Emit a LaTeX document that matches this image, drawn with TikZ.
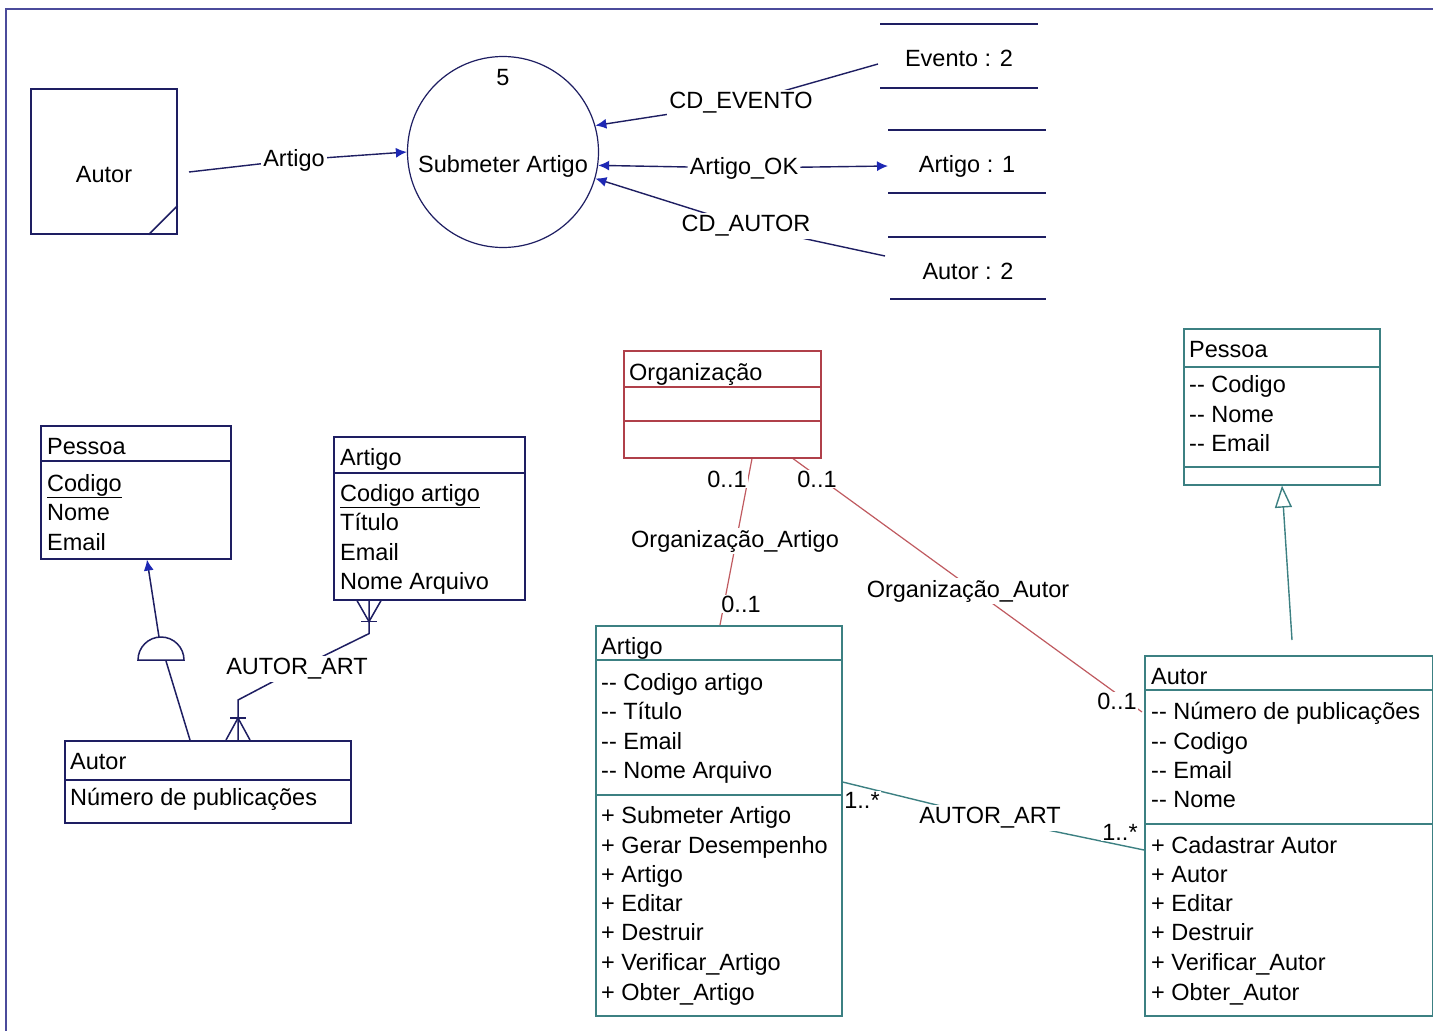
\documentclass[tikz,border=0pt]{standalone}
\usepackage{fontspec}
\setmainfont{Liberation Sans}
\usetikzlibrary{arrows.meta,calc}
\pgfdeclarelayer{bglines}
\pgfsetlayers{bglines,main}
\definecolor{framec}{HTML}{4B4B9B}
\definecolor{navy}{HTML}{1E1E62}
\definecolor{tipc}{HTML}{1E28B4}
\definecolor{tealc}{HTML}{3C8082}
\definecolor{redc}{HTML}{B0404A}
\definecolor{redl}{HTML}{C05A60}
\newcommand{\fs}{\fontsize{23.5}{28}\selectfont}
\newcommand{\dd}{-{}-}
\tikzset{
  txt/.style={anchor=base west, font=\fs, text=black, inner sep=0pt},
  ctxt/.style={font=\fs, text=black, inner sep=1pt},
  lbl/.style={font=\fs, text=black, fill=white, inner sep=2pt},
  mult/.style={font=\fs, text=black, fill=white, inner sep=1pt},
  erbox/.style={draw=navy, line width=1.6, anchor=north west, inner sep=0pt, rectangle},
  umlbox/.style={draw=tealc, line width=1.6, anchor=north west, inner sep=0pt, rectangle},
  orgbox/.style={draw=redc, line width=1.6, anchor=north west, inner sep=0pt, rectangle},
  erline/.style={draw=navy, line width=1.5},
  flow/.style={draw=navy, line width=1.4},
  tealline/.style={draw=tealc, line width=1.4},
  redline/.style={draw=redl, line width=1.2},
  tipend/.style={-{Latex[length=11,width=10,color=tipc]}},
}
\begin{document}
\begin{tikzpicture}[x=1pt,y=-1pt]
\useasboundingbox (0,0) rectangle (1433,1031);
\begin{pgfonlayer}{bglines}
\fill[white] (0,0) rectangle (1433,1031);
\end{pgfonlayer}
% frame
\draw[framec, line width=2.2] (6,1031) -- (6,9) -- (1433,9);

% ---------------- DFD ----------------
\node[erbox, minimum width=146, minimum height=145] (extA) at (30,88) {};
\node[ctxt] (extAT) at (104,175) {Autor};
\draw[erline] ($(extA.south east)+(-29,0)$) -- ($(extA.south east)+(0,-29)$);

\node[circle, draw=navy, line width=1.2, minimum size=191, inner sep=0pt] (proc) at (503,152) {};
\node[ctxt] (procN) at (503,78) {5};
\node[ctxt] (procT) at (503,166) {Submeter Artigo};

\draw[navy, line width=1.8] (880,24) -- (1038,24) (880,88) -- (1038,88);
\node[ctxt] (ds1) at (959,58) {Evento : 2};
\draw[navy, line width=1.8] (888,130) -- (1046,130) (888,193) -- (1046,193);
\node[ctxt] (ds2) at (967,166) {Artigo : 1};
\draw[navy, line width=1.8] (888,237) -- (1046,237) (890,299) -- (1046,299);
\node[ctxt] (ds3) at (968,271) {Autor : 2};

\coordinate (aS) at (189,172);
\coordinate (evS) at (878,64);
\coordinate (okE) at (888,166);
\coordinate (auS) at (885,256);
\node[lbl] (lArt) at (294,160) {Artigo};
\node[lbl] (lEv) at (741,103) {CD\_EVENTO};
\node[lbl] (lOK) at (744,168) {Artigo\_OK};
\node[lbl] (lAu) at (746,226) {CD\_AUTOR};

% ---------------- ER ----------------
\node[erbox, minimum width=190, minimum height=133] (pE) at (40,425) {};
\draw[erline] ($(pE.north west)+(0,36)$) -- ($(pE.north east)+(0,36)$);
\node[txt] (pE1) at (47,454) {Pessoa};
\node[txt] (pE2) at (47,491) {\underline{Codigo}};
\node[txt] (pE3) at (47,520) {Nome};
\node[txt] (pE4) at (47,550) {Email};

\node[erbox, minimum width=191, minimum height=163] (aE) at (333,436) {};
\draw[erline] ($(aE.north west)+(0,37)$) -- ($(aE.north east)+(0,37)$);
\node[txt] (aE1) at (340,465) {Artigo};
\node[txt] (aE2) at (340,501) {\underline{Codigo artigo}};
\node[txt] (aE3) at (340,530) {Título};
\node[txt] (aE4) at (340,560) {Email};
\node[txt] (aE5) at (340,589) {Nome Arquivo};

\node[erbox, minimum width=286, minimum height=82] (uE) at (64,740) {};
\draw[erline] ($(uE.north west)+(0,40)$) -- ($(uE.north east)+(0,40)$);
\node[txt] (uE1) at (70,769) {Autor};
\node[txt] (uE2) at (70,805) {Número de publicações};

% inheritance (dome)
\coordinate (domeC) at (161,660);
\draw[erline] ($(domeC)+(-23,0)$) arc[start angle=180, end angle=360, radius=23] -- cycle;
\coordinate (inhTop) at (159,637);
\coordinate (inhBot) at (166,661);

% crow's feet
\coordinate (cfA) at ($(aE.south west)+(36,0)$);
\coordinate (cfA2) at ($(cfA)+(0,33)$);
\draw[erline] ($(cfA)+(-12,0)$) -- ($(cfA)+(0,21)$) -- ($(cfA)+(12,0)$);
\draw[erline] ($(cfA)+(-8,21)$) -- ($(cfA)+(8,21)$);

\coordinate (cfU) at ($(uE.north west)+(174,0)$);
\coordinate (cfU2) at ($(cfU)+(0,-40)$);
\draw[erline] ($(cfU)+(-12,0)$) -- ($(cfU)+(0,-22)$) -- ($(cfU)+(12,0)$);
\draw[erline] ($(cfU)+(-8,-22)$) -- ($(cfU)+(8,-22)$);

\node[lbl] (lAAE) at (297,669) {AUTOR\_ART};

% ---------------- UML ----------------
\node[orgbox, minimum width=197, minimum height=107] (org) at (623,350) {};
\draw[redc, line width=1.6] ($(org.north west)+(0,37)$) -- ($(org.north east)+(0,37)$);
\draw[redc, line width=1.6] ($(org.north west)+(0,71)$) -- ($(org.north east)+(0,71)$);
\node[txt] (org1) at (629,380) {Organização};

\node[umlbox, minimum width=196, minimum height=156] (pU) at (1183,328) {};
\draw[tealline] ($(pU.north west)+(0,39)$) -- ($(pU.north east)+(0,39)$);
\draw[tealline] ($(pU.north west)+(0,139)$) -- ($(pU.north east)+(0,139)$);
\node[txt] (pU1) at (1189,357) {Pessoa};
\node[txt] (pU2) at (1189,392) {\dd{} Codigo};
\node[txt] (pU3) at (1189,422) {\dd{} Nome};
\node[txt] (pU4) at (1189,451) {\dd{} Email};

\node[umlbox, minimum width=246, minimum height=390] (aU) at (595,625) {};
\draw[tealline] ($(aU.north west)+(0,35)$) -- ($(aU.north east)+(0,35)$);
\draw[tealline] ($(aU.north west)+(0,170)$) -- ($(aU.north east)+(0,170)$);
\node[txt] (aU0) at (601,654) {Artigo};
\node[txt] (aU1) at (601,690) {\dd{} Codigo artigo};
\node[txt] (aU2) at (601,719) {\dd{} Título};
\node[txt] (aU3) at (601,749) {\dd{} Email};
\node[txt] (aU4) at (601,778) {\dd{} Nome Arquivo};
\node[txt] (aU5) at (601,823) {+ Submeter Artigo};
\node[txt] (aU6) at (601,853) {+ Gerar Desempenho};
\node[txt] (aU7) at (601,882) {+ Artigo};
\node[txt] (aU8) at (601,911) {+ Editar};
\node[txt] (aU9) at (601,940) {+ Destruir};
\node[txt] (aU10) at (601,970) {+ Verificar\_Artigo};
\node[txt] (aU11) at (601,1000) {+ Obter\_Artigo};

\node[umlbox, minimum width=288, minimum height=360] (uU) at (1144,655) {};
\draw[tealline] ($(uU.north west)+(0,35)$) -- ($(uU.north east)+(0,35)$);
\draw[tealline] ($(uU.north west)+(0,169)$) -- ($(uU.north east)+(0,169)$);
\node[txt] (uU0) at (1151,684) {Autor};
\node[txt] (uU1) at (1151,719) {\dd{} Número de publicações};
\node[txt] (uU2) at (1151,749) {\dd{} Codigo};
\node[txt] (uU3) at (1151,778) {\dd{} Email};
\node[txt] (uU4) at (1151,807) {\dd{} Nome};
\node[txt] (uU5) at (1151,853) {+ Cadastrar Autor};
\node[txt] (uU6) at (1151,882) {+ Autor};
\node[txt] (uU7) at (1151,911) {+ Editar};
\node[txt] (uU8) at (1151,940) {+ Destruir};
\node[txt] (uU9) at (1151,970) {+ Verificar\_Autor};
\node[txt] (uU10) at (1151,1000) {+ Obter\_Autor};

\node[mult] (m1) at (727,479) {0..1};
\node[lbl] (lOA) at (735,541) {Organização\_Artigo};
\node[mult] (m2) at (741,604) {0..1};
\node[mult] (m3) at (817,479) {0..1};
\node[lbl] (lOU) at (968,591) {Organização\_Autor};
\node[mult] (m4) at (1117,701) {0..1};

\coordinate (aaS) at ($(aU.north east)+(0,157)$);
\coordinate (aaE) at ($(uU.north west)+(0,195)$);
\node[lbl] (lAAU) at (990,818) {AUTOR\_ART};
\node[mult] (m5) at (862,800) {1..*};
\node[mult] (m6) at (1120,832) {1..*};

% ---------------- connectors (behind labels) ----------------
\begin{pgfonlayer}{bglines}
\draw[flow, tipend] (aS) -- (lArt.center) -- (proc.west);
\draw[flow, tipend] (evS) -- (lEv.center) -- (proc.16);
\draw[flow, tipend] (lOK) -- (proc.-8);
\draw[flow, tipend] (lOK) -- (okE);
\draw[flow, tipend] (auS) -- (lAu.center) -- (proc.-16);

\draw[erline, tipend] (inhTop) -- ($(pE.south west)+(107,0)$);
\draw[erline] (inhBot) -- ($(uE.north west)+(126,0)$);
\draw[erline] (cfA) -- (cfA2) -- (lAAE.center) -- (cfU2) -- (cfU);

\draw[redline] ($(org.south west)+(129,0)$) -- ($(aU.north west)+(125,0)$);
\draw[redline] ($(org.south west)+(170,0)$) -- ($(uU.north west)+(-2,57)$);
\draw[tealline, -{Triangle[open,length=22,width=17]}] ($(uU.north west)+(148,-15)$) -- ($(pU.south west)+(99,0)$);
\draw[tealline] (aaS) -- (lAAU.center) -- (aaE);
\end{pgfonlayer}
\end{tikzpicture}
\end{document}
